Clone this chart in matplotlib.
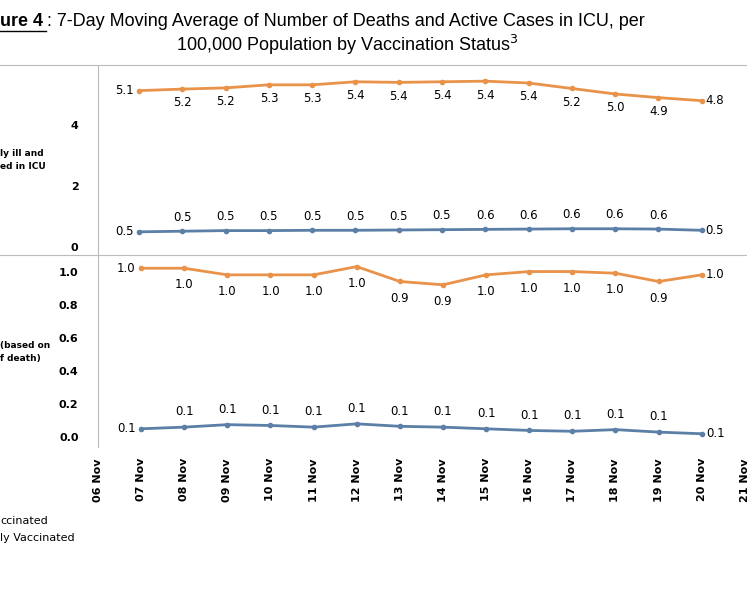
import matplotlib.pyplot as plt
from matplotlib.lines import Line2D

days = list(range(6, 22))
tick_labels = [f"{d:02d} Nov" for d in days]
pt_days = list(range(7, 21))

icu_unvax = [5.13, 5.18, 5.22, 5.32, 5.32, 5.42, 5.4, 5.42, 5.44, 5.38, 5.2, 5.02, 4.9, 4.8]
icu_unvax_lbl = ["5.1", "5.2", "5.2", "5.3", "5.3", "5.4", "5.4", "5.4", "5.4", "5.4", "5.2", "5.0", "4.9", "4.8"]
icu_vax = [0.5, 0.52, 0.54, 0.54, 0.55, 0.55, 0.56, 0.57, 0.58, 0.59, 0.6, 0.6, 0.59, 0.55]
icu_vax_lbl = ["0.5", "0.5", "0.5", "0.5", "0.5", "0.5", "0.5", "0.5", "0.6", "0.6", "0.6", "0.6", "0.6", "0.5"]

death_unvax = [1.02, 1.02, 0.98, 0.98, 0.98, 1.03, 0.94, 0.92, 0.98, 1.0, 1.0, 0.99, 0.94, 0.98]
death_unvax_lbl = ["1.0", "1.0", "1.0", "1.0", "1.0", "1.0", "0.9", "0.9", "1.0", "1.0", "1.0", "1.0", "0.9", "1.0"]
death_vax = [0.05, 0.06, 0.075, 0.07, 0.06, 0.08, 0.065, 0.06, 0.05, 0.04, 0.035, 0.045, 0.03, 0.02]
death_vax_lbl = ["0.1"] * 14

orange = "#E8924A"
blue = "#5B7FA6"

fig = plt.figure(figsize=(7.47, 5.98), dpi=100)
ax1 = fig.add_axes([98 / 747, 1 - 255 / 598, 1 - 98 / 747, 190 / 598])
ax2 = fig.add_axes([98 / 747, 1 - 447 / 598, 1 - 98 / 747, 192 / 598])


def panel(ax, u, ul, v, vl, ylim, yticks, ytl, du, dv):
    ax.plot(pt_days, u, color=orange, marker="o", ms=3, lw=2)
    ax.plot(pt_days, v, color=blue, marker="o", ms=3, lw=2)
    n = len(pt_days)
    for series, labels, dy in [(u, ul, du), (v, vl, dv)]:
        for i, (x, y, s) in enumerate(zip(pt_days, series, labels)):
            if i == 0:
                ax.annotate(s, (x, y), xytext=(-4, 0), textcoords="offset points", ha="right", va="center", fontsize=8.5)
            elif i == n - 1:
                ax.annotate(s, (x, y), xytext=(3, 0), textcoords="offset points", ha="left", va="center", fontsize=8.5)
            else:
                ax.annotate(s, (x, y), xytext=(0, dy), textcoords="offset points", ha="center", va="center", fontsize=8.5)
    ax.set_xlim(6.05, 21.05)
    ax.set_ylim(*ylim)
    ax.set_yticks(yticks)
    ax.set_yticklabels(ytl, fontsize=8, fontweight="bold")
    ax.tick_params(length=0, pad=14)
    for s in ["top", "right", "bottom"]:
        ax.spines[s].set_visible(False)
    ax.spines["left"].set_color("#bbbbbb")


panel(ax1, icu_unvax, icu_unvax_lbl, icu_vax, icu_vax_lbl, (-0.26, 5.97), [0, 2, 4], ["0", "2", "4"], -10, 10)
ax1.set_xticks([])
panel(ax2, death_unvax, death_unvax_lbl, death_vax, death_vax_lbl, (-0.06, 1.10),
      [0, 0.2, 0.4, 0.6, 0.8, 1.0], ["0.0", "0.2", "0.4", "0.6", "0.8", "1.0"], -12, 11)
ax2.set_xticks(days)
ax2.set_xticklabels(tick_labels, rotation=90, fontsize=8, fontweight="bold")
ax2.tick_params(axis="x", pad=8)

for y in [65, 255]:
    fig.add_artist(Line2D([0, 1], [1 - y / 598, 1 - y / 598], color="#bbbbbb", lw=0.8))

fig.text(0.0, 1 - 160 / 598, "ly ill and\ned in ICU", fontsize=6.5, fontweight="bold", va="center", linespacing=1.6)
fig.text(0.0, 1 - 352 / 598, "(based on\nf death)", fontsize=6.5, fontweight="bold", va="center", ha="left", linespacing=1.6)
fig.text(0.0, 1 - 521 / 598, "ccinated", fontsize=8, va="center")
fig.text(0.0, 1 - 538 / 598, "ly Vaccinated", fontsize=8, va="center")

fig.text(0.0, 1 - 22 / 598, "ure 4", fontsize=13, fontweight="bold", va="center", family="Liberation Sans")
fig.add_artist(Line2D([0.0, 0.062], [1 - 31 / 598, 1 - 31 / 598], color="black", lw=1))
fig.text(0.063, 1 - 22 / 598, ": 7-Day Moving Average of Number of Deaths and Active Cases in ICU, per",
         fontsize=13, va="center", family="Liberation Sans")
fig.text(0.465, 1 - 45 / 598, "100,000 Population by Vaccination Status$^3$", fontsize=13, va="center",
         ha="center", family="Liberation Sans")

fig.savefig("out.png", dpi=100)
